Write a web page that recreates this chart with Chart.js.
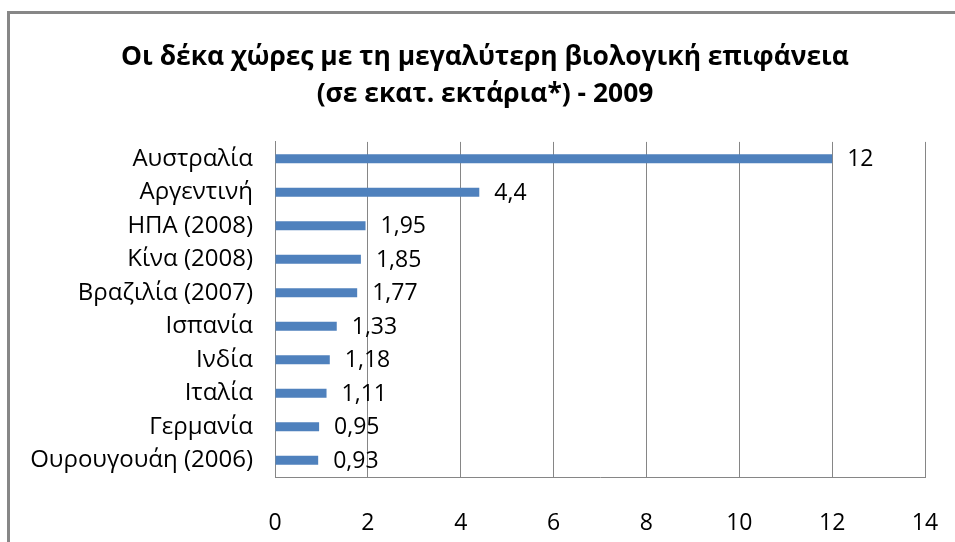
<!DOCTYPE html>
<html>
<head>
<meta charset="utf-8">
<script src="https://cdn.jsdelivr.net/npm/chart.js@4/dist/chart.umd.min.js"></script>
<style>
  html, body { margin: 0; padding: 0; background: #fff; }
  #wrap { width: 955px; height: 542px; position: relative; }
</style>
</head>
<body>
<div id="wrap"><canvas id="chart"></canvas></div>
<script>
const titleLines = ['Οι δέκα χώρες με τη μεγαλύτερη βιολογική επιφάνεια', '(σε εκατ. εκτάρια*) - 2009']
const countries = [
  'Αυστραλία', 'Αργεντινή', 'ΗΠΑ (2008)', 'Κίνα (2008)', 'Βραζιλία (2007)',
  'Ισπανία', 'Ινδία', 'Ιταλία', 'Γερμανία', 'Ουρουγουάη (2006)'
]
const hectares = [12, 4.4, 1.95, 1.85, 1.77, 1.33, 1.18, 1.11, 0.95, 0.93]
const xTicks = [0, 2, 4, 6, 8, 10, 12, 14]

const FONT = "'Open Sans', 'Noto Sans', sans-serif"
const GRID = '#868686'

const framePlugin = {
  id: 'frame',
  beforeDraw(chart) {
    const ctx = chart.ctx
    ctx.save()
    ctx.strokeStyle = '#878787'
    ctx.lineWidth = 3
    ctx.beginPath()
    ctx.moveTo(8.5, chart.height + 2)
    ctx.lineTo(8.5, 12.5)
    ctx.lineTo(chart.width + 2, 12.5)
    ctx.stroke()
    ctx.restore()
  }
}

const valueLabels = {
  id: 'valueLabels',
  afterDatasetsDraw(chart) {
    const ctx = chart.ctx
    const meta = chart.getDatasetMeta(0)
    ctx.save()
    ctx.font = `23px ${FONT}`
    ctx.fillStyle = '#000'
    ctx.textAlign = 'left'
    ctx.textBaseline = 'middle'
    meta.data.forEach((bar, i) => {
      const txt = String(hectares[i]).replace('.', ',')
      ctx.fillText(txt, bar.x + 15, bar.y + 1)
    })
    ctx.restore()
  }
}

new Chart(document.getElementById('chart'), {
  type: 'bar',
  data: {
    labels: countries,
    datasets: [{
      data: hectares,
      backgroundColor: '#4f81bd',
      categoryPercentage: 1,
      barPercentage: 0.27
    }]
  },
  options: {
    indexAxis: 'y',
    responsive: true,
    maintainAspectRatio: false,
    animation: false,
    layout: { padding: { left: 30, right: 15, top: 0, bottom: 0 } },
    plugins: {
      legend: { display: false },
      tooltip: { enabled: false },
      title: {
        display: true,
        text: titleLines,
        color: '#000',
        font: { family: FONT, size: 26.4, weight: 'bold', lineHeight: 1.4 },
        padding: { top: 39, bottom: 29 }
      }
    },
    scales: {
      x: {
        min: 0,
        max: 14,
        afterBuildTicks: (scale) => { scale.ticks = xTicks.map(v => ({ value: v })) },
        afterFit: (scale) => {
          scale.height = 65
          scale.paddingLeft = 0
          scale.paddingRight = 30
        },
        grid: { color: GRID, drawTicks: false },
        border: { color: GRID },
        ticks: { color: '#000', padding: 33, font: { family: FONT, size: 23 } }
      },
      y: {
        afterFit: (scale) => { scale.width = 245 },
        grid: { display: false, drawTicks: false },
        border: { color: GRID },
        ticks: { color: '#000', padding: 22, font: { family: FONT, size: 24 } }
      }
    }
  },
  plugins: [framePlugin, valueLabels]
})
</script>
</body>
</html>
